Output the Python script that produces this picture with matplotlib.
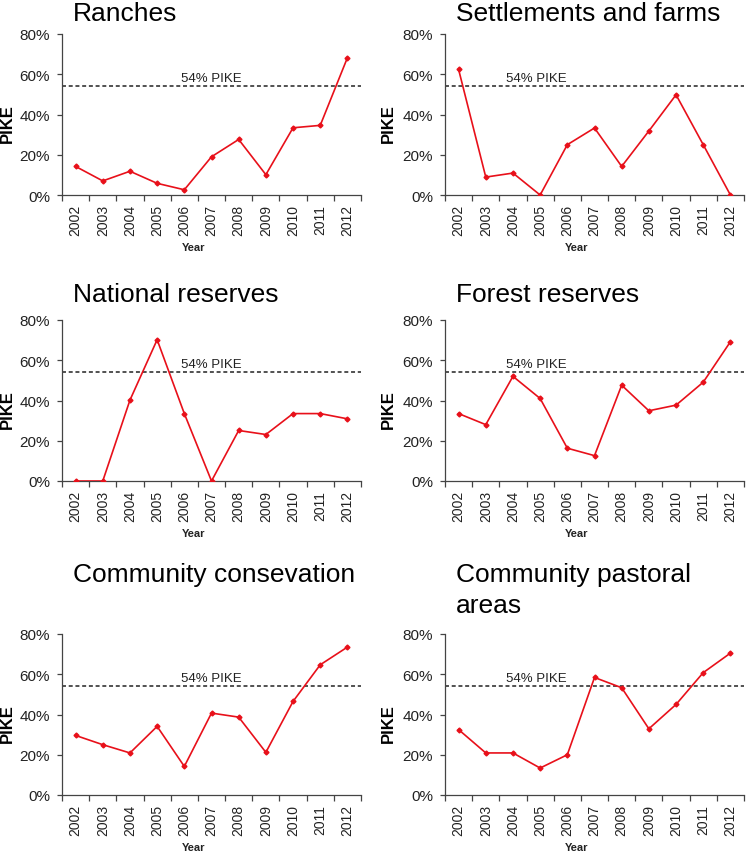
import matplotlib
matplotlib.use('Agg')
import matplotlib.pyplot as plt
from matplotlib.ticker import PercentFormatter, FixedLocator

plt.rcParams['font.family'] = ['Liberation Sans', 'DejaVu Sans']

years = ['2002', '2003', '2004', '2005', '2006', '2007', '2008', '2009', '2010', '2011', '2012']
pike_level = 54

titles = ['Ranches', 'Settlements and farms', 'National reserves', 'Forest reserves',
          'Community consevation', 'Community pastoral\nareas']

ranches = [14.2, 7.0, 11.8, 5.8, 2.6, 19.0, 27.6, 10.1, 33.4, 34.6, 68.2]
settlements = [62.4, 8.9, 10.9, 0.0, 25.0, 33.3, 14.2, 31.8, 49.8, 25.0, 0.0]
national = [0.0, 0.0, 40.2, 70.2, 33.5, 0.0, 25.1, 23.1, 33.5, 33.5, 30.9]
forest = [33.5, 28.0, 52.0, 41.0, 16.3, 12.6, 47.6, 34.9, 37.7, 49.1, 69.2]
community_cons = [29.6, 25.0, 20.9, 34.1, 14.2, 40.7, 38.7, 21.2, 46.5, 64.7, 73.5]
pastoral = [32.5, 20.9, 20.9, 13.4, 20.0, 58.4, 53.3, 32.9, 45.0, 60.8, 70.5]

series = [ranches, settlements, national, forest, community_cons, pastoral]

W, H = 746, 853
fig = plt.figure(figsize=(W / 100, H / 100), dpi=100)

# axes boxes in pixels: left, top, width, height
col_left = [62, 445]
row_top = [35, 321, 635]
ax_w, ax_h = 299, 161
# title baseline (pixels from top) per row
title_y = [21, 302, 582]
label_x = [5.0, 2.85]

for i, (vals, title) in enumerate(zip(series, titles)):
    r, c = divmod(i, 2)
    left, top = col_left[c], row_top[r]
    ax = fig.add_axes([left / W, 1 - (top + ax_h) / H, ax_w / W, ax_h / H])
    x = list(range(len(years)))
    ax.plot(x, vals, color='#e8101a', lw=1.2, marker='D', ms=2.5, zorder=3)
    ax.axhline(pike_level, color='#222222', lw=1.1, ls=(0, (2.6, 1.8)), zorder=2)
    ax.text(label_x[c], pike_level + 1.2, '54% PIKE', ha='center', va='bottom',
            fontsize=9.5, color='#222222')

    ax.set_xlim(-0.5, len(years) - 0.5)
    ax.set_ylim(0, 80)
    ax.set_yticks([0, 20, 40, 60, 80])
    ax.yaxis.set_major_formatter(PercentFormatter(100, decimals=0))
    ax.set_xticks(x)
    ax.set_xticklabels(years, rotation=90)
    ax.xaxis.set_minor_locator(FixedLocator([k - 0.5 for k in range(len(years) + 1)]))
    ax.tick_params(axis='x', which='major', length=0, pad=6.5, labelsize=10, labelcolor='#222222')
    ax.tick_params(axis='x', which='minor', length=4, width=0.9, direction='out', color='#444444')
    ax.tick_params(axis='y', length=3.5, width=0.9, direction='out', pad=5,
                   labelsize=11, labelcolor='#222222', color='#444444')
    for s in ['top', 'right']:
        ax.spines[s].set_visible(False)
    for s in ['left', 'bottom']:
        ax.spines[s].set_color('#444444')
        ax.spines[s].set_linewidth(0.9)

    ax.set_ylabel('PIKE', fontsize=12, fontweight='bold')
    ax.yaxis.set_label_coords(-0.158 if c == 0 else -0.164, 0.45)
    ax.set_xlabel('Year', fontsize=8, fontweight='bold', color='#222222')
    ax.xaxis.set_label_coords(0.44, -0.29)

    fig.text((left + 11) / W, 1 - title_y[r] / H, title.split('\n')[0], fontsize=19,
             va='baseline', ha='left')
    if '\n' in title:
        fig.text((left + 11) / W, 1 - (title_y[r] + 31) / H, title.split('\n')[1],
                 fontsize=19, va='baseline', ha='left')

fig.savefig('out.png', dpi=100)
